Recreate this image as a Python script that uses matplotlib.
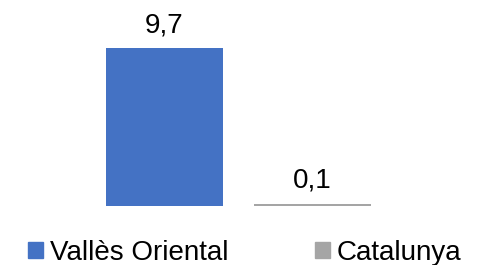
import matplotlib.pyplot as plt
from matplotlib.patches import Patch

categories = ["Vallès Oriental", "Catalunya"]
values = [9.7, 0.1]
labels = ["9,7", "0,1"]
colors = ["#4472C4", "#A5A5A5"]

plt.rcParams["font.family"] = ["Liberation Sans", "DejaVu Sans"]

fig = plt.figure(figsize=(4.83, 2.65), dpi=100)
ax = fig.add_axes([90 / 483, 1 - 205.5 / 265, 296 / 483, (157 / 265) * 11 / 9.7])
x = range(len(values))
bars = ax.bar(x, values, width=117 / 148, color=colors)
ax.set_xlim(-0.5, 1.5)
ax.set_ylim(0, 11)
ax.axis("off")

for bar, lab in zip(bars, labels):
    ax.annotate(lab, (bar.get_x() + bar.get_width() / 2, bar.get_height()),
                xytext=(0, 11.5), textcoords="offset points",
                ha="center", va="baseline", fontsize=20, color="#000000")

handles = [Patch(color=c, label=n) for c, n in zip(colors, categories)]
fig.legend(handles=handles, loc="center left", bbox_to_anchor=(28 / 483, 0.046),
           ncol=2, frameon=False, fontsize=20, handlelength=0.55, handleheight=0.55,
           handletextpad=0.25, columnspacing=3.1, borderpad=0, borderaxespad=0)

fig.savefig("out.png", dpi=100)
